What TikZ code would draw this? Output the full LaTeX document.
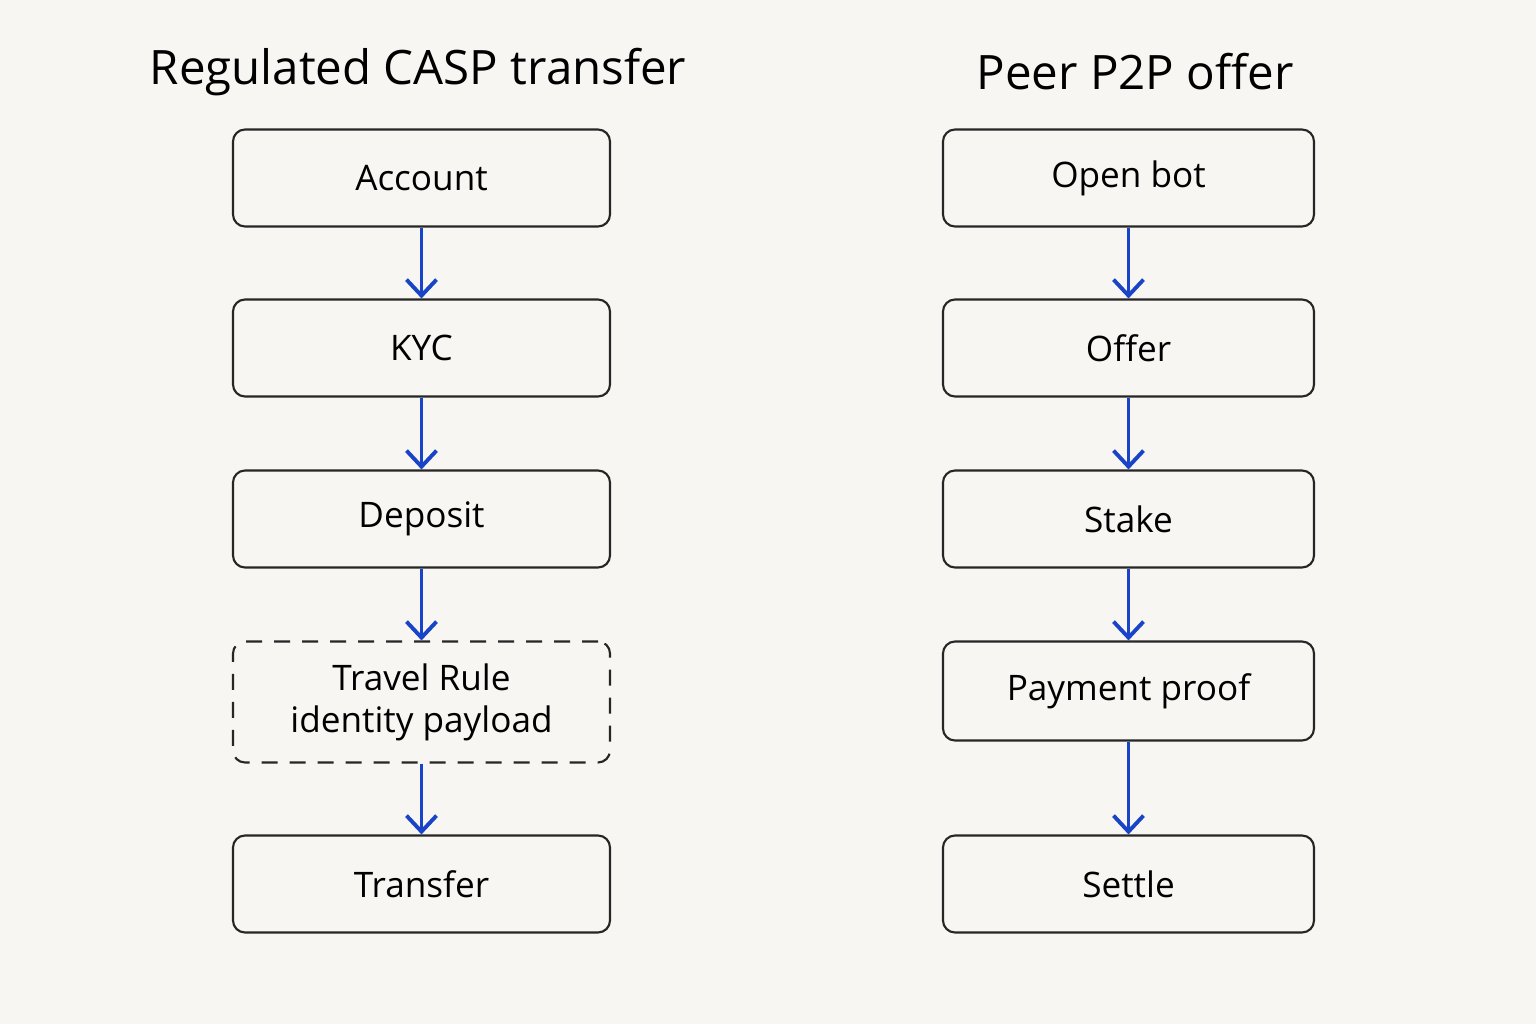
\documentclass[tikz,border=0pt]{standalone}
\usepackage{fontspec}
\setmainfont{Open Sans}
\usetikzlibrary{arrows.meta, positioning}
\definecolor{bgcol}{HTML}{F8F6F2}
\definecolor{flowblue}{HTML}{1A44C8}
\tikzset{
  flowbox/.style={draw=black!85, line width=0.6pt, rounded corners=0.12cm, minimum height=0.97cm, align=center, font=\fontsize{10}{12}\selectfont},
  leftbox/.style={flowbox, minimum width=3.77cm},
  rightbox/.style={flowbox, minimum width=3.71cm},
  flow/.style={-{Straight Barb[length=1.6mm,width=3mm]}, flowblue, line width=1.1pt},
  heading/.style={font=\fontsize{13.5}{16}\selectfont}
}
\begin{document}
\begin{tikzpicture}

% Background and page size
\fill[bgcol] (0,0) rectangle (15.36,10.24);
\useasboundingbox (0,0) rectangle (15.36,10.24);

% Headings
\node[heading] (lefttitle) at (4.18,9.52) {Regulated CASP transfer};
\node[heading] (righttitle) at (11.35,9.52) {Peer P2P offer};

% Left column
\node[leftbox] (account) at (4.215,8.46) {Account};
\node[leftbox] (kyc) at (4.215,6.76) {KYC};
\node[leftbox] (deposit) at (4.215,5.05) {Deposit};
\node[leftbox, dashed, dash pattern=on 1.6mm off 1.2mm, minimum height=1.21cm] (travel) at (4.215,3.22) {Travel Rule\\identity payload};
\node[leftbox] (transfer) at (4.215,1.40) {Transfer};

% Right column
\node[rightbox] (openbot) at (11.285,8.46) {Open bot};
\node[rightbox] (offer) at (11.285,6.76) {Offer};
\node[rightbox] (stake) at (11.285,5.05) {Stake};
\node[rightbox, minimum height=0.99cm] (payment) at (11.285,3.33) {Payment proof};
\node[rightbox] (settle) at (11.285,1.40) {Settle};

% Arrows
\foreach \a/\b in {account/kyc, kyc/deposit, deposit/travel, travel/transfer, openbot/offer, offer/stake, stake/payment, payment/settle}
{
    \draw[flow] (\a) -- (\b);
}

\end{tikzpicture}
\end{document}
